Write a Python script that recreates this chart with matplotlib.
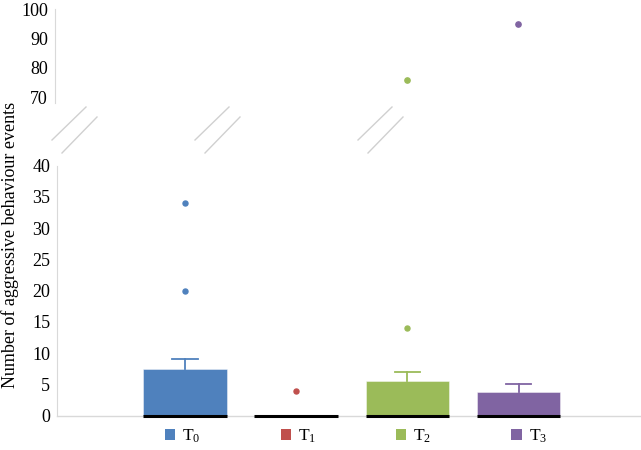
import matplotlib
matplotlib.use("Agg")
import matplotlib.pyplot as plt
from matplotlib.lines import Line2D
from matplotlib.patches import Patch

plt.rcParams['font.family'] = ['Liberation Serif', 'DejaVu Serif']
plt.rcParams['mathtext.fontset'] = 'custom'
plt.rcParams['mathtext.rm'] = 'Liberation Serif'
plt.rcParams['mathtext.it'] = 'Liberation Serif'

# ---- data ----
categories = [r'$\mathrm{T_0}$', r'$\mathrm{T_1}$', r'$\mathrm{T_2}$', r'$\mathrm{T_3}$']
q1 = [0, 0, 0, 0]
median = [0, 0, 0, 0]
q3 = [7.5, 0, 5.5, 3.8]
whisker_max = [9, 0, 7, 5]
outliers_low = [[34, 20], [4], [14], []]
outliers_high = [[], [], [76], [95]]
colors = ['#4F81BD', '#C0504D', '#9BBB59', '#8064A2']
low_ticks = [0, 5, 10, 15, 20, 25, 30, 35, 40]
high_ticks = [70, 80, 90, 100]

W, H = 641, 450
fig = plt.figure(figsize=(W / 100, H / 100), dpi=100)

def fx(x):
    return x / W

def fy(y):
    return 1 - y / H

ax_hi = fig.add_axes([fx(55), fy(103), 1 - fx(55), fy(9) - fy(103)])
ax_lo = fig.add_axes([fx(57), fy(415.7), 1 - fx(57), fy(165.7) - fy(415.7)])

xs = list(range(len(categories)))
xlim = (-1.15, 4.1)
width = 0.75
grid_col = '#D9D9D9'

for ax in (ax_hi, ax_lo):
    ax.set_xlim(*xlim)
    for s in ['top', 'right', 'bottom']:
        ax.spines[s].set_visible(False)
    ax.spines['left'].set_color(grid_col)
    ax.tick_params(axis='y', length=0, labelsize=13, pad=5)
    ax.tick_params(axis='x', length=0, labelbottom=False)
    ax.set_facecolor('none')

ax_lo.set_ylim(0, 40)
ax_lo.set_yticks(low_ticks)
ax_hi.set_ylim(68, 100)
ax_hi.set_yticks(high_ticks)

# baseline
ax_lo.axhline(0, color=grid_col, lw=1, zorder=1, clip_on=False)

for i, x in enumerate(xs):
    c = colors[i]
    h = q3[i] - q1[i]
    if h > 0:
        ax_lo.bar(x, h, bottom=q1[i], width=width, color=c,
                  edgecolor='#FFFFFF80', linewidth=0.6, zorder=2)
    # median line
    ax_lo.plot([x - width / 2, x + width / 2], [median[i], median[i]],
               color='black', lw=2.2, zorder=3, clip_on=False, solid_capstyle='butt')
    # whisker
    if whisker_max[i] > q3[i]:
        ax_lo.plot([x, x], [q3[i], whisker_max[i]], color=c, lw=1.3, zorder=2)
        ax_lo.plot([x - 0.115, x + 0.115], [whisker_max[i], whisker_max[i]],
                   color=c, lw=1.3, zorder=2)
    for v in outliers_low[i]:
        ax_lo.plot(x, v, 'o', color=c, ms=3.6, zorder=4)
    for v in outliers_high[i]:
        ax_hi.plot(x, v, 'o', color=c, ms=3.8, zorder=4)

# axis-break marks
for x0 in [52, 195, 358]:
    fig.add_artist(Line2D([fx(x0), fx(x0 + 34)], [fy(140), fy(107)],
                          color='#D0D0D0', lw=1))
    fig.add_artist(Line2D([fx(x0 + 10), fx(x0 + 45)], [fy(153), fy(117)],
                          color='#D0D0D0', lw=1))

fig.text(fx(10), fy(245), 'Number of aggressive behaviour events',
         rotation=90, ha='center', va='center', fontsize=13)

handles = [Patch(facecolor=c, edgecolor='none') for c in colors]
fig.legend(handles, categories, loc='center', bbox_to_anchor=(fx(356), fy(436)),
           ncol=4, frameon=False, fontsize=12.5, handlelength=0.6,
           handleheight=0.6, handletextpad=0.4, columnspacing=4.6)

fig.savefig('out.png', dpi=100)
